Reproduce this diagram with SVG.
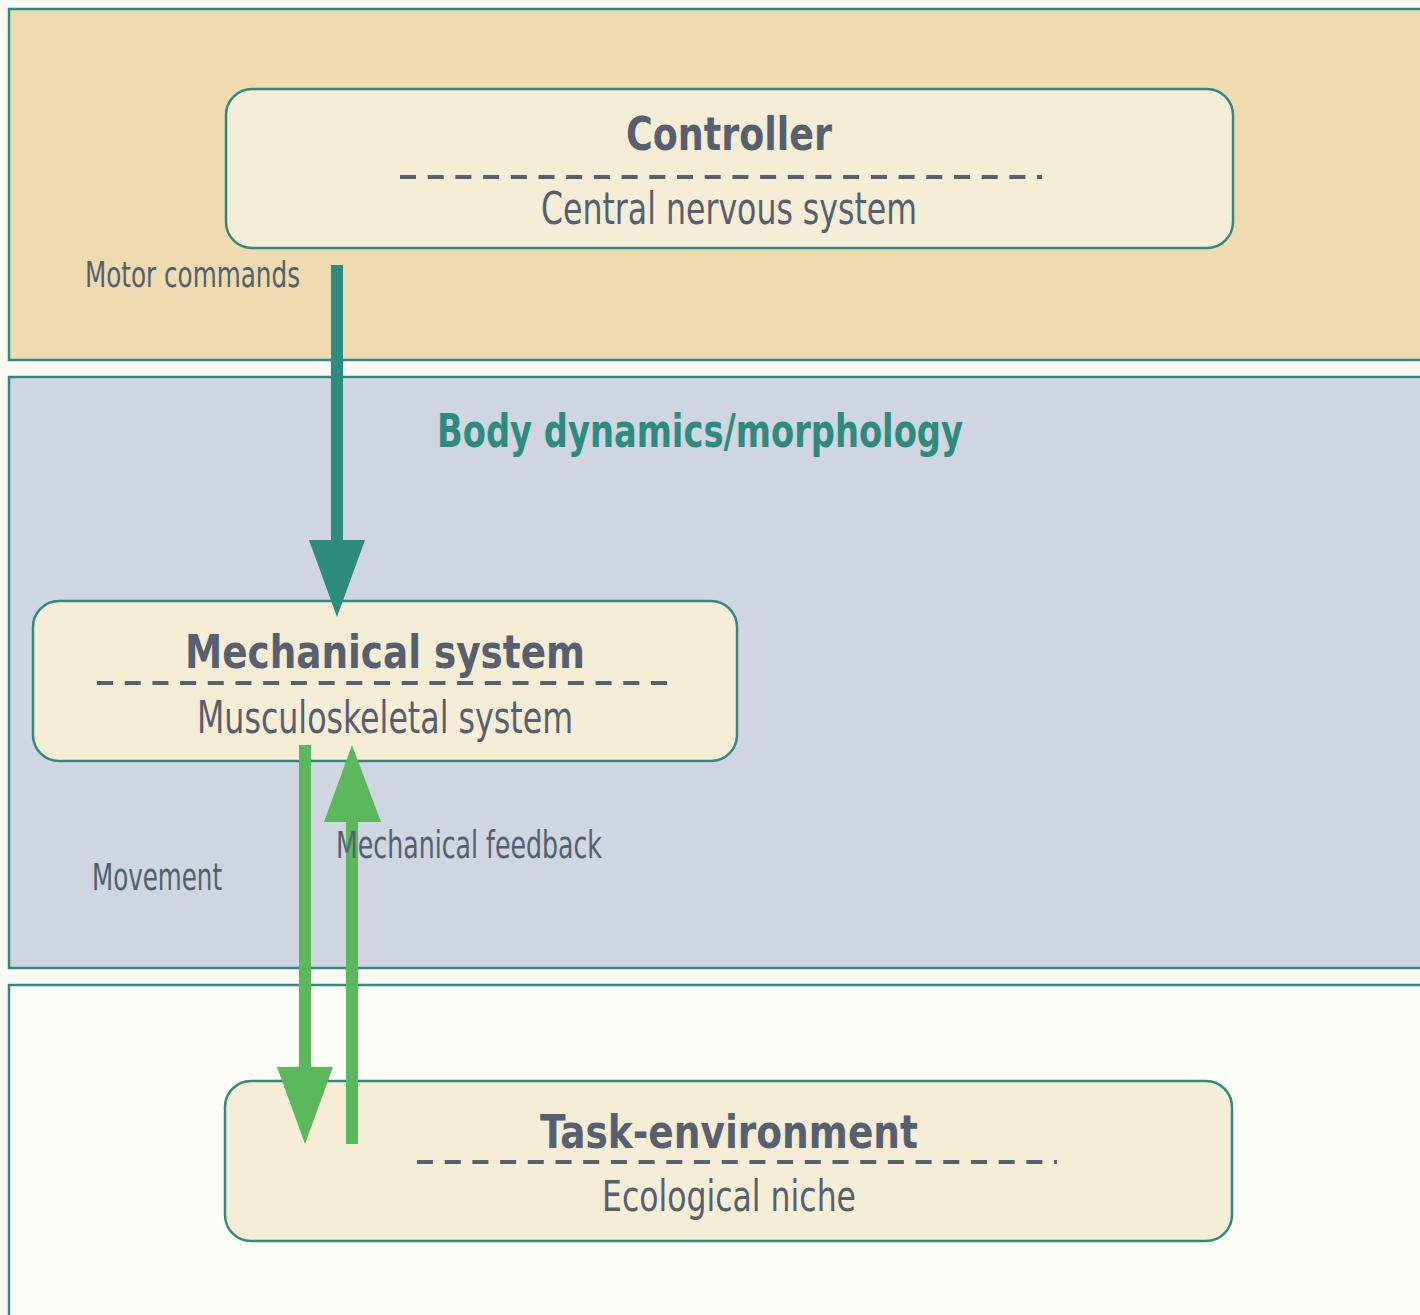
<svg xmlns="http://www.w3.org/2000/svg" width="1420" height="1315" viewBox="0 0 1420 1315">
  <style>
    .panel { stroke: #2E8B7F; stroke-width: 2.5; }
    .node { fill: #F6EDD7; stroke: #2E8B7F; stroke-width: 2.5; }
    .title { font-family: "DejaVu Sans Condensed", "DejaVu Sans", sans-serif; font-weight: bold; fill: #56606E; text-anchor: middle; }
    .sub { font-family: "DejaVu Sans Condensed", "DejaVu Sans", sans-serif; fill: #56606E; text-anchor: middle; }
    .lbl { font-family: "DejaVu Sans Condensed", "DejaVu Sans", sans-serif; fill: #56606E; }
    .sep { stroke: #56606E; stroke-width: 4; stroke-dasharray: 16 11.7; }
  </style>
  <rect width="1420" height="1315" fill="#FAFAF4"/>

  <!-- layers -->
  <g id="layer-controller">
    <rect class="panel" x="9" y="9" width="1420" height="351" fill="#EEDCB0"/>
  </g>
  <g id="layer-body">
    <rect class="panel" x="9" y="377" width="1420" height="591" fill="#CFD5E1"/>
    <text class="title" x="700" y="447" font-size="46" style="fill:#2E8B7F" textLength="526" lengthAdjust="spacingAndGlyphs">Body dynamics/morphology</text>
  </g>
  <g id="layer-environment">
    <rect class="panel" x="9" y="985" width="1420" height="360" fill="#FDFDF8"/>
  </g>

  <!-- nodes -->
  <g id="node-controller">
    <rect class="node" x="226" y="89" width="1007" height="159" rx="26"/>
    <text class="title" x="729" y="150" font-size="47" textLength="206" lengthAdjust="spacingAndGlyphs">Controller</text>
    <line class="sep" x1="400" y1="177" x2="1042" y2="177"/>
    <text class="sub" x="729" y="224" font-size="45" textLength="376" lengthAdjust="spacingAndGlyphs">Central nervous system</text>
  </g>
  <g id="node-mechanical">
    <rect class="node" x="33" y="601" width="704" height="160" rx="26"/>
    <text class="title" x="385" y="668" font-size="47" textLength="400" lengthAdjust="spacingAndGlyphs">Mechanical system</text>
    <line class="sep" x1="97" y1="683" x2="673" y2="683"/>
    <text class="sub" x="385" y="733" font-size="45" textLength="376" lengthAdjust="spacingAndGlyphs">Musculoskeletal system</text>
  </g>
  <g id="node-task">
    <rect class="node" x="225" y="1081" width="1007" height="160" rx="26"/>
    <text class="title" x="729" y="1148" font-size="47" textLength="378" lengthAdjust="spacingAndGlyphs">Task-environment</text>
    <line class="sep" x1="417" y1="1162" x2="1057" y2="1162"/>
    <text class="sub" x="729" y="1211" font-size="43" textLength="254" lengthAdjust="spacingAndGlyphs">Ecological niche</text>
  </g>

  <!-- connectors -->
  <g id="connectors">
    <rect x="331" y="265" width="12" height="280" fill="#2E8B7F"/>
    <polygon points="309,540 365,540 337,617" fill="#2E8B7F"/>
    <rect x="299" y="745" width="12" height="327" fill="#5CB85C"/>
    <polygon points="277,1067 333,1067 305,1144" fill="#5CB85C"/>
    <rect x="346" y="817" width="12" height="327" fill="#5CB85C"/>
    <polygon points="324,822 381,822 352,745" fill="#5CB85C"/>
    <text class="lbl" x="85" y="287" font-size="36" textLength="215" lengthAdjust="spacingAndGlyphs">Motor commands</text>
    <text class="lbl" x="92" y="890" font-size="37" textLength="130" lengthAdjust="spacingAndGlyphs">Movement</text>
    <text class="lbl" x="336" y="858" font-size="37" textLength="266" lengthAdjust="spacingAndGlyphs">Mechanical feedback</text>
  </g>
</svg>
